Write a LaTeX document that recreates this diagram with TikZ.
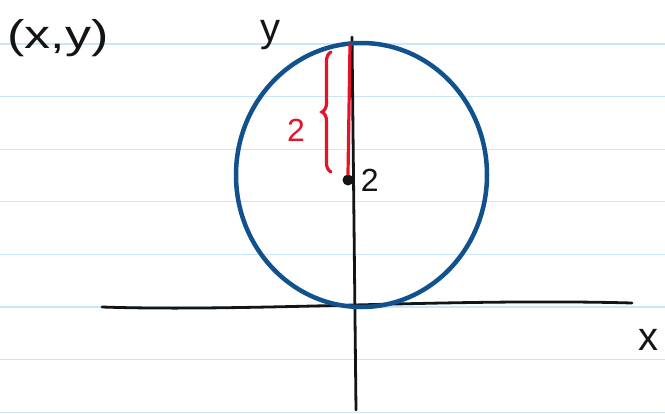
\documentclass[tikz,border=0pt]{standalone}
\usepackage{fontspec}
\setmainfont{Liberation Sans}
\usepackage{xcolor}
\definecolor{ruled}{RGB}{200,232,250}
\definecolor{ink}{RGB}{20,20,20}
\definecolor{penblue}{RGB}{18,82,140}
\definecolor{penred}{RGB}{228,20,40}
\usepackage{tikz}
\usetikzlibrary{arrows.meta,positioning,decorations.pathreplacing,calc}
\tikzset{
  rule/.style={draw=ruled,line width=1.3pt},
  axis/.style={draw=ink,line width=2.8pt,line cap=round},
  hand/.style={font=\fontsize{40}{42}\selectfont,text=ink,inner sep=0pt},
  handsm/.style={font=\fontsize{32}{34}\selectfont,inner sep=0pt},
  curve/.style={draw=penblue,line width=4.5pt},
  measure/.style={draw=penred,line width=3.2pt,line cap=round},
}

\begin{document}
\begin{tikzpicture}[x=1pt,y=-1pt]
\useasboundingbox (0,0) rectangle (665,413);
\fill[white] (0,0) rectangle (665,413);
% ruled paper
\foreach \k in {0,...,7}
  \draw[rule] (0,{44+52.6*\k}) -- (665,{44+52.6*\k});
% axes
\coordinate (xl) at (102,307);
\coordinate (xr) at (632,303);
\coordinate (yt) at (352,37);
\coordinate (yb) at (356,410);
\draw[axis] (xl) .. controls (250,312) and (450,298) .. (xr);
\draw[axis] (yt) -- (yb);
\node[hand] (ylab) at (270,35) {y};
\node[hand] (xlab) at (648,340) {x};
\node[hand,xscale=1.3] (pt) at (58,38) {(x,y)};
% circle
\coordinate (ctr) at (361.5,175);
\draw[curve] (ctr) ellipse [x radius=125.5,y radius=132];
\coordinate (top) at (350,45);
% center and radius
\node[circle,fill=ink,inner sep=0pt,minimum size=11pt] (c) at (348,180) {};
\node[handsm,text=ink,right=7pt of c] (clab) {2};
\draw[measure] (top) -- (c.north);
\draw[measure,decorate,decoration={brace,amplitude=9pt}]
  (331,172) -- (331,52);
\node[handsm,text=penred] (rlab) at (296,130) {2};
\end{tikzpicture}
\end{document}
